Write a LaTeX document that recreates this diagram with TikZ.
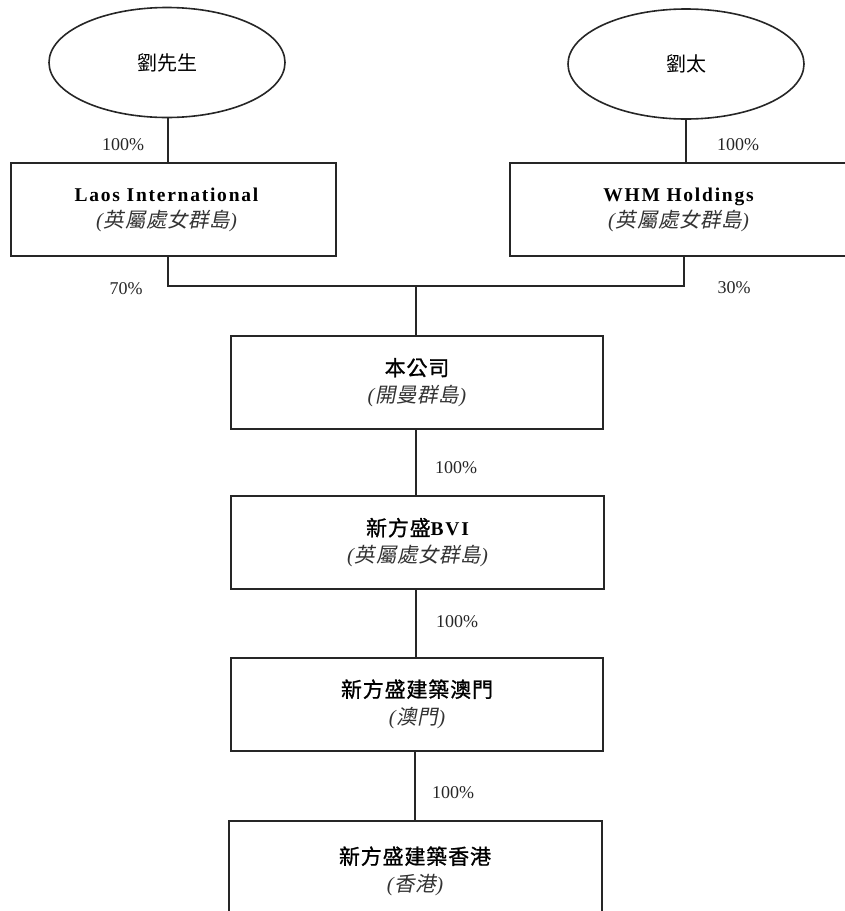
\documentclass[tikz,border=0pt]{standalone}
\usepackage{fontspec}
\setmainfont{Liberation Serif}
\newfontfamily\cjk{Noto Sans CJK TC}
\newfontfamily\cjktitle[FakeBold=1]{Noto Sans CJK TC}
\newfontfamily\cjkit[FakeSlant=0.2,LetterSpace=3]{Noto Sans CJK TC}
\usetikzlibrary{shapes.geometric}
\newcommand{\lbold}[1]{{\fontsize{19.5}{27}\selectfont\bfseries\addfontfeatures{LetterSpace=9}#1}}
\newcommand{\ctitle}[1]{{\fontsize{21}{27}\selectfont\cjktitle\addfontfeatures{LetterSpace=4}#1}}
\newcommand{\cit}[1]{{\fontsize{20.5}{27}\selectfont\color{black!80}\textit{(}{\cjkit #1}\textit{)}}}
\begin{document}
\begin{tikzpicture}[x=1pt,y=-1pt,
  owner/.style={draw=black!85, line width=1.6pt, ellipse, minimum width=236pt, minimum height=110pt, inner sep=0pt, font=\fontsize{20}{24}\selectfont\cjk},
  cobox/.style={draw=black!85, line width=2pt, rectangle, inner sep=0pt, align=center, font=\fontsize{19}{27}\selectfont},
  conn/.style={draw=black!85, line width=2pt},
  pct/.style={inner sep=0pt, font=\fontsize{18}{20}\selectfont, text=black!85}]
\useasboundingbox (0,0) rectangle (845,911);

\node[owner] (e1) at (167,62.5) {劉先生};
\node[owner] (e2) at (686,64) {劉太};

\node[cobox, minimum width=325pt, minimum height=93pt] (b1) at (173.5,209.5) {\hspace*{-14pt}\lbold{Laos International}\\[-1pt]\hspace*{-14pt}\cit{英屬處女群島}};
\node[cobox, minimum width=337pt, minimum height=93pt] (b2) at (678.5,209.5) {\lbold{WHM Holdings}\\[-1pt]\cit{英屬處女群島}};

\node[cobox, minimum width=372pt, minimum height=93pt] (c) at (417,382.5) {\ctitle{本公司}\\\cit{開曼群島}};
\node[cobox, minimum width=373pt, minimum height=93pt] (d) at (417.5,542.5) {\ctitle{新方盛}\lbold{BVI}\\\cit{英屬處女群島}};
\node[cobox, minimum width=372pt, minimum height=93pt] (f) at (417,704) {\ctitle{新方盛建築澳門}\\\cit{澳門}};
\node[cobox, minimum width=373pt, minimum height=100pt] (g) at (415,871) {\ctitle{新方盛建築香港}\\\cit{香港}};

\coordinate (j) at (416,286);
\coordinate (l1) at (168,256);
\coordinate (r1) at (684,256);

\draw[conn] (e1.south -| l1) -- (b1.north -| l1);
\draw[conn] (e2.south) -- (e2.south |- b2.north);
\draw[conn] (l1) |- (j) -| (r1);
\draw[conn] (j) -- (j |- c.north);
\draw[conn] (c.south -| j) -- (d.north -| j);
\draw[conn] (d.south -| j) -- (f.north -| j);
\draw[conn] (f.south -| g.north) -- (g.north);

\node[pct] (p1) at (123,145) {100\%};
\node[pct] (p2) at (738,145) {100\%};
\node[pct] (p3) at (126,289) {70\%};
\node[pct] (p4) at (734,288) {30\%};
\node[pct] (p5) at (456,468) {100\%};
\node[pct] (p6) at (457,622) {100\%};
\node[pct] (p7) at (453,793) {100\%};
\end{tikzpicture}
\end{document}
